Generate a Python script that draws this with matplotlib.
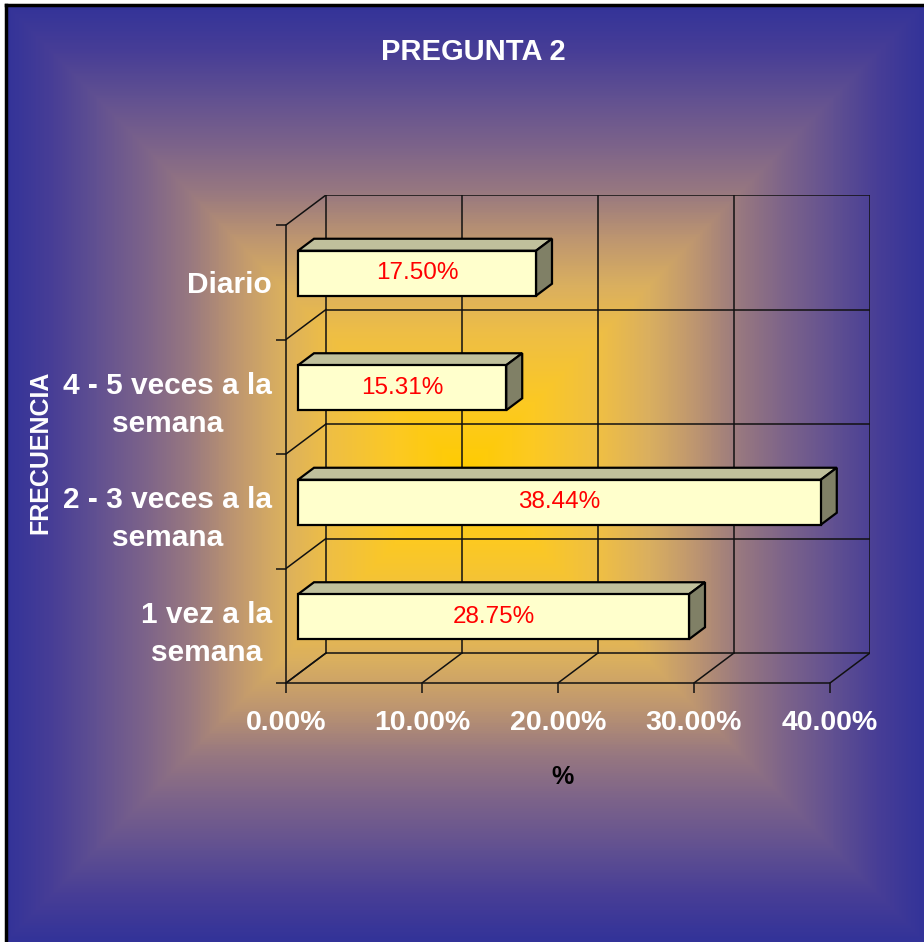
import numpy as np
import matplotlib
matplotlib.use("Agg")
from matplotlib import pyplot as plt
from matplotlib.colors import LinearSegmentedColormap
from matplotlib.patches import Polygon, Rectangle

plt.rcParams["font.family"] = ["Liberation Sans", "DejaVu Sans"]

# frequency answers, bottom to top
categories = ["1 vez a la\nsemana", "2 - 3 veces a la\nsemana",
              "4 - 5 veces a la\nsemana", "Diario"]
values = [28.75, 38.44, 15.31, 17.50]
xticks = [0, 10, 20, 30, 40]
xtick_labels = ["0.00%", "10.00%", "20.00%", "30.00%", "40.00%"]

W, H = 924, 942
fig = plt.figure(figsize=(W / 100, H / 100), dpi=100)
fig.patch.set_facecolor("white")

# background: rectangular gradient yellow in the middle, blue at the border
bg = fig.add_axes([0, 0, 1, 1], zorder=-10)
bg.set_xlim(0, W)
bg.set_ylim(H, 0)
bg.axis("off")
x0f, y0f = 6, 5
cx, cy = 465, 473
hw, hh = 459, 468
xx, yy = np.meshgrid(np.arange(x0f, W) + 0.5, np.arange(y0f, H) + 0.5)
tt = np.maximum(np.abs(xx - cx) / hw, np.abs(yy - cy) / hh).clip(0, 1)
stops = [(0.0, (255, 204, 0)), (0.15, (252, 201, 35)), (0.3, (238, 190, 70)),
         (0.4, (218, 175, 95)), (0.5, (190, 150, 112)), (0.6, (152, 120, 128)),
         (0.7, (124, 99, 138)), (0.8, (98, 81, 145)), (0.9, (72, 62, 150)),
         (1.0, (51, 51, 153))]
cmap = LinearSegmentedColormap.from_list(
    "bg", [(s, tuple(c / 255 for c in col)) for s, col in stops])
bg.imshow(tt, cmap=cmap, vmin=0, vmax=1, extent=(x0f, W, H, y0f),
          interpolation="bilinear", aspect="auto")
bg.plot([x0f, x0f], [H, y0f], color="black", lw=2.5)
bg.plot([x0f, W], [y0f, y0f], color="black", lw=2.5)

# plot area in pixels: front plane 286..830 x 683..225, depth offset 40 x 30
px_x, px_y = 13.6, 114.5
DX, DY = 40 / px_x, 30 / px_y
left, base = 286, 683
ax = fig.add_axes([left / W, (H - base) / H,
                   (40 * px_x + 40) / W, (4 * px_y + 30) / H])
ax.set_xlim(0, 40 + DX)
ax.set_ylim(0, 4 + DY)
ax.patch.set_alpha(0)
for s in ["top", "right"]:
    ax.spines[s].set_visible(False)
ax.spines["bottom"].set_bounds(0, 40)
ax.spines["left"].set_bounds(0, 4)
lc = "#111111"
lw = 1.1
for s in ["bottom", "left"]:
    ax.spines[s].set_color(lc)
    ax.spines[s].set_linewidth(lw)

# back wall and gridlines
nc = len(categories)
for t in xticks:
    ax.plot([t + DX, t + DX], [DY, nc + DY], color=lc, lw=lw, zorder=1)
    ax.plot([t, t + DX], [0, DY], color=lc, lw=lw, zorder=1)
for i in range(nc + 1):
    ax.plot([DX, 40 + DX], [i + DY, i + DY], color=lc, lw=lw, zorder=1)
    ax.plot([0, DX], [i, i + DY], color=lc, lw=lw, zorder=1)

# 3d bars
h = 0.393
d0, d1 = 0.3, 0.7
for i, v in enumerate(values):
    bx = d0 * DX
    by = i + 0.5 + d0 * DY - h / 2
    ox, oy = (d1 - d0) * DX, (d1 - d0) * DY
    top = Polygon([(bx, by + h), (bx + v, by + h), (bx + v + ox, by + h + oy),
                   (bx + ox, by + h + oy)], closed=True,
                  facecolor="#C0C09C", edgecolor="black", lw=1.6, zorder=3)
    side = Polygon([(bx + v, by), (bx + v + ox, by + oy), (bx + v + ox, by + h + oy),
                    (bx + v, by + h)], closed=True,
                   facecolor="#808066", edgecolor="black", lw=1.6, zorder=3)
    front = Rectangle((bx, by), v, h, facecolor="#FFFFCC", edgecolor="black",
                      lw=1.6, zorder=4)
    for p in (top, side, front):
        ax.add_patch(p)
    ax.text(bx + v / 2, by + h / 2, f"{v:.2f}%", color="red", fontsize=17.5,
            ha="center", va="center", zorder=5)

# axis ticks and labels
ax.set_xticks(xticks)
ax.set_xticklabels(xtick_labels, fontsize=20.5, fontweight="bold", color="white")
ax.tick_params(axis="x", length=7.2, width=lw, color=lc, pad=12)
ax.set_yticks(np.arange(nc) + 0.5)
ax.set_yticklabels(categories, fontsize=21.5, fontweight="bold", color="white",
                   multialignment="center", linespacing=1.45)
ax.tick_params(axis="y", which="major", length=0, pad=10)
ax.set_yticks(np.arange(nc + 1), minor=True)
ax.tick_params(axis="y", which="minor", length=7.2, width=lw, color=lc)

fig.text(473 / W, 1 - 52 / H, "PREGUNTA 2", fontsize=21, fontweight="bold",
         color="white", ha="center", va="center")
fig.text(40 / W, 1 - 452 / H, "FRECUENCIA", fontsize=18, fontweight="bold",
         color="white", ha="center", va="center", rotation=90)
fig.text(562 / W, 1 - 777 / H, "%", fontsize=18, fontweight="bold",
         color="black", ha="center", va="center")

fig.savefig("out.png", dpi=100)
